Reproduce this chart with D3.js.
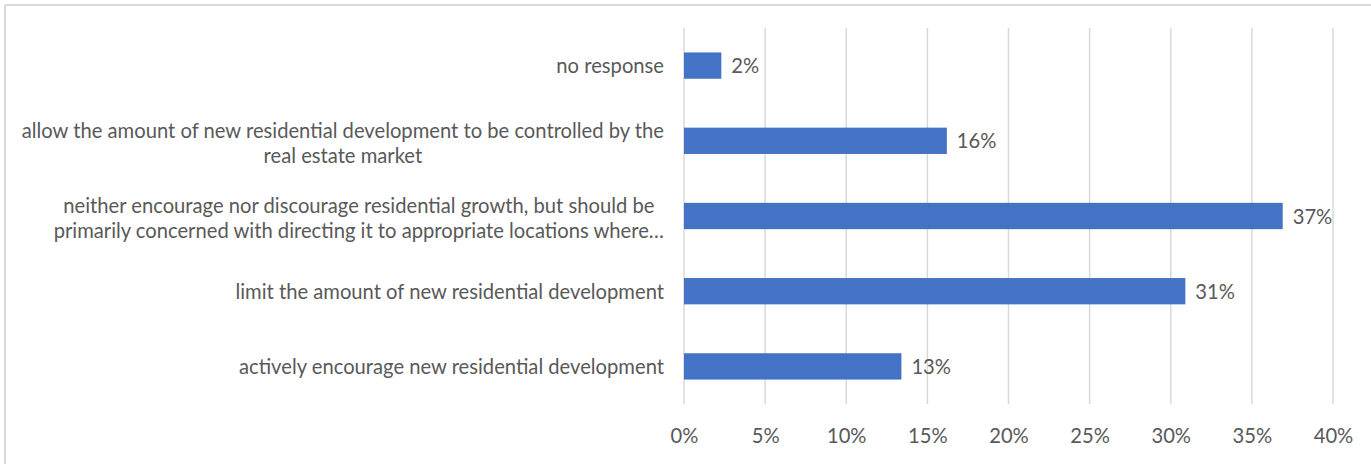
<!DOCTYPE html>
<html>
<head>
<meta charset="utf-8">
<script src="https://cdn.jsdelivr.net/npm/d3@7"></script>
<style>
  html, body { margin: 0; padding: 0; background: #fff; }
  svg { display: block; font-family: Lato, "Open Sans", sans-serif; }
</style>
</head>
<body>
<div id="chart"></div>
<script>
// categories top to bottom, "\n" marks the wrapped line
const categories = [
  "no response",
  "allow the amount of new residential development to be controlled by the\nreal estate market",
  "neither encourage nor discourage residential growth, but should be\nprimarily concerned with directing it to appropriate locations where…",
  "limit the amount of new residential development",
  "actively encourage new residential development"
];
const values = [0.023, 0.162, 0.369, 0.309, 0.134];
const tickValues = [0, 0.05, 0.10, 0.15, 0.20, 0.25, 0.30, 0.35, 0.40];

const width = 1371, height = 464;
const margin = {top: 28, right: 38, bottom: 60, left: 684};
const textColor = "#595959";
const barColor = "#4472C4";
const gridColor = "#d9d9d9";
const fontSize = 20.2;

const svg = d3.select("#chart").append("svg")
  .attr("width", width)
  .attr("height", height);

// outer frame (only top and left edges show)
svg.append("line").attr("x1", 5).attr("x2", width).attr("y1", 5).attr("y2", 5)
  .attr("stroke", gridColor).attr("stroke-width", 2);
svg.append("line").attr("x1", 5).attr("x2", 5).attr("y1", 5).attr("y2", height)
  .attr("stroke", gridColor).attr("stroke-width", 2);

let x = d3.scaleLinear()
  .domain([0, 0.40])
  .range([margin.left, width - margin.right]);

let y = d3.scaleBand()
  .domain(categories)
  .range([margin.top, height - margin.bottom])
  .paddingInner(0.65)
  .paddingOuter(0.325);

// vertical gridlines
svg.append("g")
  .selectAll("line")
  .data(tickValues)
  .join("line")
  .attr("x1", d => x(d)).attr("x2", d => x(d))
  .attr("y1", margin.top).attr("y2", height - margin.bottom)
  .attr("stroke", gridColor)
  .attr("stroke-width", 1.5);

// x axis labels
let xAxis = g => g
  .attr("transform", `translate(0, ${height - margin.bottom})`)
  .call(d3.axisBottom(x).tickValues(tickValues).tickFormat(d3.format(".0%")).tickSize(0).tickPadding(25))
  .call(g => g.select(".domain").remove())
  .call(g => g.selectAll("text")
    .attr("fill", textColor)
    .style("font-size", fontSize + "px")
    .style("font-family", "Lato, sans-serif"));

svg.append("g").call(xAxis);

// bars
svg.append("g")
  .attr("fill", barColor)
  .selectAll("rect")
  .data(values)
  .join("rect")
  .attr("x", x(0))
  .attr("y", (d, i) => y(categories[i]))
  .attr("width", d => x(d) - x(0))
  .attr("height", y.bandwidth());

// value labels
svg.append("g")
  .selectAll("text")
  .data(values)
  .join("text")
  .attr("x", d => x(d) + 10)
  .attr("y", (d, i) => y(categories[i]) + y.bandwidth() / 2)
  .attr("dy", "0.38em")
  .attr("fill", textColor)
  .style("font-size", fontSize + "px")
  .text(d => d3.format(".0%")(d));

// category labels, wrapped lines centred within their block
const labelRight = x(0) - 20;
const lineHeight = 25;
const labels = svg.append("g")
  .selectAll("g")
  .data(categories)
  .join("g");

labels.each(function(c) {
  const g = d3.select(this);
  const lines = c.split("\n");
  const cy = y(c) + y.bandwidth() / 2 + (lines.length > 1 ? 2 : 0);
  const texts = lines.map((t, j) => g.append("text")
    .attr("y", cy + (j - (lines.length - 1) / 2) * lineHeight)
    .attr("dy", "0.38em")
    .attr("fill", textColor)
    .style("font-size", fontSize + "px")
    .text(t));
  const widths = texts.map(t => t.node().getComputedTextLength());
  const blockW = d3.max(widths);
  const center = labelRight - blockW / 2;
  texts.forEach(t => t.attr("x", center).attr("text-anchor", "middle"));
});
</script>
</body>
</html>
